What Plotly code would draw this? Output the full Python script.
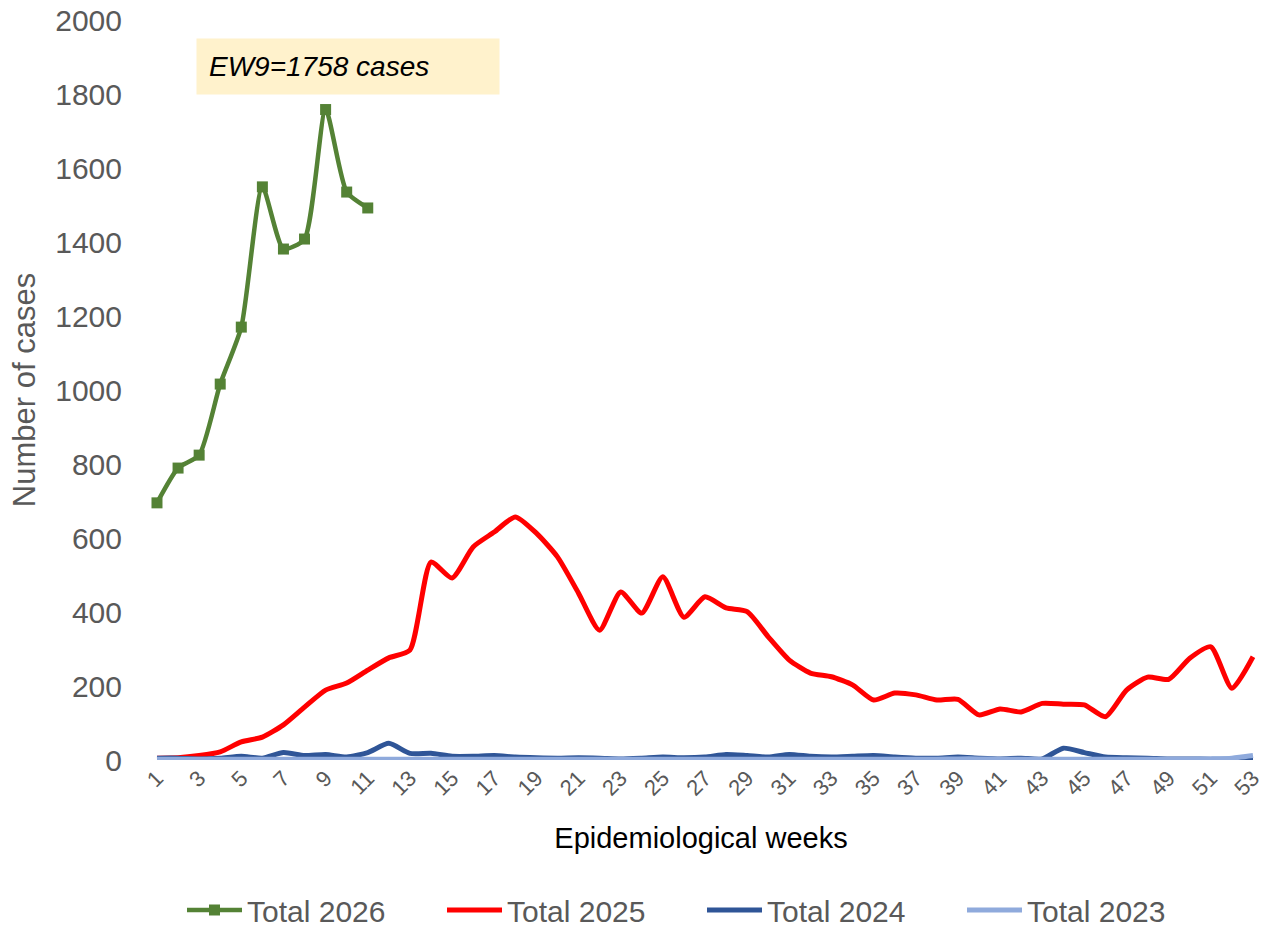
import plotly.graph_objects as go

weeks = list(range(1, 54))

total_2026 = [695, 789, 824, 1016, 1170, 1549, 1381, 1408, 1758, 1535, 1492]

total_2025 = [5, 6, 12, 22, 49, 62, 95, 143, 189, 208, 243, 276, 297, 535, 492, 576,
              616, 657, 613, 549, 451, 351, 454, 397, 495, 386, 441, 411, 401, 333,
              270, 235, 225, 203, 162, 181, 176, 162, 164, 122, 138, 130, 153, 151,
              149, 117, 189, 224, 218, 275, 306, 194, 279]

total_2024 = [5, 5, 3, 5, 10, 5, 20, 12, 15, 8, 20, 45, 18, 18, 10, 10, 12, 8, 6, 5,
              6, 5, 3, 5, 8, 6, 8, 15, 12, 8, 15, 10, 8, 10, 12, 8, 5, 5, 8, 5,
              3, 5, 3, 32, 20, 8, 6, 5, 3, 3, 2, 2, 3]

total_2023 = [2, 2, 2, 2, 2, 2, 2, 2, 2, 2, 2, 2, 2, 2, 2, 2, 2, 2, 2, 2,
              2, 2, 2, 2, 2, 2, 2, 2, 2, 2, 2, 2, 2, 2, 2, 2, 2, 2, 3, 3,
              2, 2, 2, 2, 2, 2, 2, 2, 2, 2, 3, 5, 12]

tick_vals = list(range(1, 54, 2))
tick_text = [str(v) for v in tick_vals]

peak_label = "EW9=1758 cases"

FONT = "Arial, Liberation Sans, sans-serif"

fig = go.Figure()

fig.add_trace(go.Scatter(
    x=weeks[:len(total_2026)], y=total_2026, name="Total 2026",
    mode="lines+markers", line=dict(color="#548235", width=4.5, shape="spline", smoothing=0.6),
    marker=dict(symbol="square", size=11, color="#548235"), cliponaxis=False))
fig.add_trace(go.Scatter(
    x=weeks, y=total_2025, name="Total 2025", mode="lines",
    line=dict(color="#FF0000", width=5, shape="spline", smoothing=0.6), cliponaxis=False))
fig.add_trace(go.Scatter(
    x=weeks, y=total_2024, name="Total 2024", mode="lines",
    line=dict(color="#2F5597", width=5, shape="spline", smoothing=0.6), cliponaxis=False))
fig.add_trace(go.Scatter(
    x=weeks, y=total_2023, name="Total 2023", mode="lines",
    line=dict(color="#8FAADC", width=5, shape="spline", smoothing=0.6), cliponaxis=False))

fig.add_annotation(
    x=0.05306, y=1.0, xref="paper", yref="paper", xanchor="left", yanchor="bottom",
    xshift=-8, yshift=-75,
    text="<i>" + peak_label + "</i>", showarrow=False,
    font=dict(family=FONT, size=28, color="#000000"),
    bgcolor="#FFF2CC", borderpad=12, width=278, align="left")

fig.update_layout(
    width=1261, height=928,
    paper_bgcolor="white", plot_bgcolor="white",
    margin=dict(l=145, r=4, t=20, b=168),
    font=dict(family=FONT, color="#595959"),
    showlegend=True,
    legend=dict(orientation="h", x=0.5009, xanchor="center",
                yref="container", y=0.0194, yanchor="middle",
                font=dict(size=30, color="#595959"), itemwidth=55,
                traceorder="normal", entrywidthmode="pixels", entrywidth=190),
    xaxis=dict(range=[0.431, 53.19], tickmode="array", tickvals=tick_vals, ticktext=tick_text,
               tickangle=-45, tickfont=dict(size=22, color="#595959"), ticklabeloverflow="allow",
               showgrid=False, zeroline=False, showline=False, ticks="", automargin=False,
               title=dict(text="Epidemiological weeks", font=dict(size=29, color="#000000"), standoff=28)),
    yaxis=dict(range=[0, 2000], tickmode="linear", tick0=0, dtick=200, ticklabeloverflow="allow",
               tickfont=dict(size=30, color="#595959"), showgrid=False, zeroline=False,
               showline=False, ticks="", automargin=False, ticklabelstandoff=22,
               title=dict(text="Number of cases", font=dict(size=31, color="#595959"), standoff=10)),
)

fig.write_html("out.html", config={"displayModeBar": False},
               post_script="document.body.style.margin='0';")
